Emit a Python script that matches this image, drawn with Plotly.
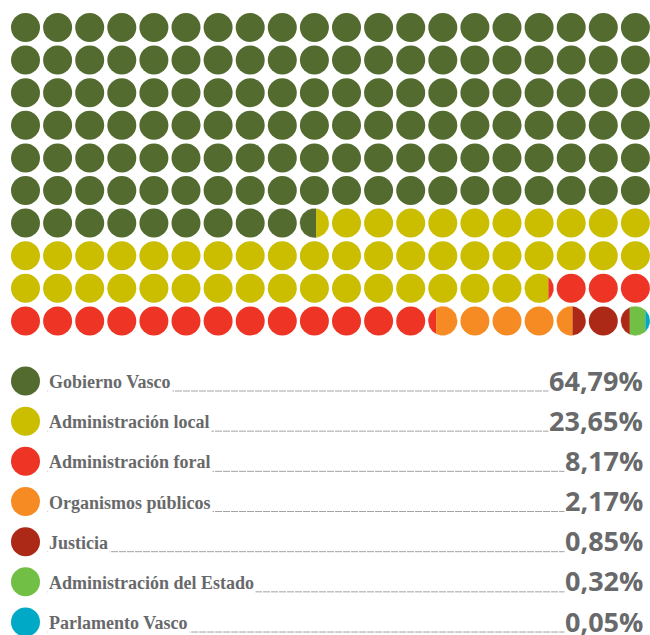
import numpy as np
import plotly.graph_objects as go

categories = ["Gobierno Vasco", "Administración local", "Administración foral",
              "Organismos públicos", "Justicia", "Administración del Estado",
              "Parlamento Vasco"]
shares = [64.79, 23.65, 8.17, 2.17, 0.85, 0.32, 0.05]
share_labels = ["64,79%", "23,65%", "8,17%", "2,17%", "0,85%", "0,32%", "0,05%"]
colors = ["#546b30", "#cbbd00", "#ee3425", "#f68b23", "#ac2917", "#72bf45", "#00a9c6"]

N_COLS, N_ROWS = 20, 10
PCT_PER_DOT = 100 / (N_COLS * N_ROWS)

# pixel geometry of the grid (used to keep dots round)
COL_PX, ROW_PX, R_PX = 32.1, 32.6, 14.5
rx, ry = R_PX / COL_PX, R_PX / ROW_PX
TEXT = "#68696b"

bounds = np.concatenate([[0], np.cumsum(shares)]) / PCT_PER_DOT

# area of unit circle left of a vertical cut -> cut position
t_grid = np.linspace(-1, 1, 401)
area_grid = (t_grid * np.sqrt(1 - t_grid ** 2) + np.arcsin(t_grid) + np.pi / 2) / np.pi


def cut(frac):
    return np.interp(frac, area_grid, t_grid)


fig = go.Figure()
full = {k: ([], []) for k in range(len(categories))}
partial = []
for d in range(N_COLS * N_ROWS):
    col, row = d % N_COLS, d // N_COLS
    segs = []
    for k in range(len(categories)):
        ov = min(d + 1, bounds[k + 1]) - max(d, bounds[k])
        if ov > 1e-6:
            segs.append((k, ov))
    if len(segs) == 1 or segs[0][1] > 0.999:
        full[segs[0][0]][0].append(col)
        full[segs[0][0]][1].append(row)
    else:
        acc = 0.0
        for k, ov in segs:
            partial.append((col, row, k, cut(acc), cut(min(acc + ov, 1.0))))
            acc += ov

for k, (xs, ys) in full.items():
    if xs:
        fig.add_trace(go.Scatter(x=xs, y=ys, mode="markers",
                                 marker=dict(size=2 * R_PX, color=colors[k], line_width=0),
                                 hoverinfo="skip"))

for col, row, k, t0, t1 in partial:
    ts = np.linspace(t0, t1, 40)
    top = np.sqrt(np.clip(1 - ts ** 2, 0, None))
    px = np.concatenate([ts, ts[::-1]])
    py = np.concatenate([top, -top[::-1]])
    fig.add_trace(go.Scatter(x=col + px * rx, y=row + py * ry, mode="lines",
                             fill="toself", fillcolor=colors[k],
                             line=dict(color=colors[k], width=0.3),
                             hoverinfo="skip"))

# legend block
leg_y0 = (381 - 27.5) / ROW_PX
leg_dy = 40.17 / ROW_PX
label_x = (47 - 25.5) / COL_PX
pct_x = (644 - 25.5) / COL_PX
leg_y = [leg_y0 + i * leg_dy for i in range(len(categories))]

fig.add_trace(go.Scatter(x=[0] * len(categories), y=leg_y, mode="markers",
                         marker=dict(size=2 * R_PX, color=colors, line_width=0),
                         hoverinfo="skip"))

for i, (name, lab) in enumerate(zip(categories, share_labels)):
    base = leg_y[i] + 10 / ROW_PX
    fig.add_trace(go.Scatter(x=[label_x, pct_x - 1], y=[base, base], mode="lines",
                             line=dict(color="#a3a3a3", width=1, dash="7px,1px"),
                             hoverinfo="skip"))
    fig.add_annotation(x=label_x, y=leg_y[i], text="<b>%s</b>" % name,
                       xanchor="left", yanchor="middle", showarrow=False,
                       yshift=-1, bgcolor="white", borderpad=1,
                       font=dict(family="Liberation Serif", size=18, color=TEXT))
    fig.add_annotation(x=pct_x, y=leg_y[i], text="<b>%s</b>" % lab,
                       xanchor="right", yanchor="middle", showarrow=False,
                       yshift=1, bgcolor="white", borderpad=0,
                       font=dict(family="Open Sans", size=27, color=TEXT))

fig.update_layout(
    width=650, height=635,
    margin=dict(l=0, r=0, t=0, b=0),
    paper_bgcolor="white", plot_bgcolor="white",
    showlegend=False,
    xaxis=dict(range=[-25.5 / COL_PX, (650 - 25.5) / COL_PX], visible=False, fixedrange=True),
    yaxis=dict(range=[(635 - 27.5) / ROW_PX, -27.5 / ROW_PX], visible=False, fixedrange=True),
)

# drop the browser's default page margin so the figure fills the window
fig.write_html("out.html", config={"displayModeBar": False},
               post_script="document.body.style.margin='0';")
